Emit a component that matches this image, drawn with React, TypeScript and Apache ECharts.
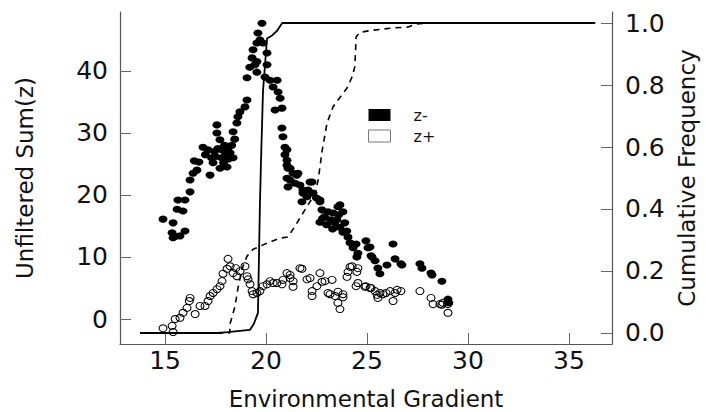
import React, { useEffect, useRef } from 'react';
import * as echarts from 'echarts';

const FONT = 'DejaVu Sans';

const xTicks = [15, 20, 25, 30, 35];
const leftTicks = [0, 10, 20, 30, 40];
const rightTicks = [0, 0.2, 0.4, 0.6, 0.8, 1.0];

const zMinus: number[][] = [
  [14.9, 16.1], [15.35, 13.9], [15.4, 13.1], [15.4, 15.5], [15.5, 13.3], [15.6, 17.7], [15.64, 19.2],
  [15.74, 13.4], [15.89, 17.4], [15.99, 14.2], [15.99, 19.2], [16.24, 20.5], [16.24, 22.4], [16.39, 23.5],
  [16.45, 25.5], [16.58, 24.0], [16.68, 25.3], [16.88, 27.7], [17.0, 26.5], [17.13, 27.3], [17.23, 23.2],
  [17.3, 26.0], [17.38, 25.2], [17.45, 27.0], [17.5, 26.2], [17.57, 31.3], [17.57, 30.0], [17.62, 27.5],
  [17.72, 28.9], [17.72, 24.3], [17.8, 26.0], [17.85, 27.2], [17.9, 25.2], [17.95, 28.0], [18.0, 26.5],
  [18.07, 24.5], [18.1, 27.5], [18.15, 25.8], [18.22, 26.8], [18.3, 28.0], [18.37, 26.0], [18.37, 30.2],
  [18.45, 29.0], [18.56, 31.6], [18.61, 32.6], [18.71, 33.4], [18.96, 34.2], [19.06, 35.3], [19.06, 38.9],
  [19.2, 40.6], [19.31, 42.1], [19.36, 43.4], [19.45, 41.0], [19.55, 44.5], [19.55, 41.5], [19.55, 39.8],
  [19.6, 46.1], [19.7, 45.0], [19.8, 47.7], [19.85, 44.5], [19.95, 39.0], [20.05, 42.9], [20.05, 41.0],
  [20.2, 38.5], [20.35, 37.4], [20.45, 33.7], [20.55, 38.5], [20.6, 36.6], [20.7, 35.6], [20.79, 34.0],
  [20.79, 30.8], [20.84, 29.4], [20.94, 27.7], [20.94, 26.5], [21.04, 27.3], [21.04, 25.6], [21.04, 24.8],
  [21.04, 22.7], [21.09, 24.3], [21.09, 21.3], [21.19, 24.3], [21.19, 22.4], [21.34, 23.5], [21.44, 21.9],
  [21.53, 23.2], [21.58, 23.5], [21.68, 21.6], [21.78, 18.9], [21.83, 20.8], [21.83, 20.3], [22.03, 19.7],
  [22.08, 20.8], [22.18, 22.1], [22.28, 22.1], [22.33, 20.3], [22.5, 19.5], [22.67, 19.2], [22.67, 18.9],
  [22.67, 15.6], [22.77, 17.6], [22.8, 16.2], [22.9, 16.5], [23.0, 15.2], [23.07, 17.3], [23.2, 16.0],
  [23.3, 14.5], [23.32, 17.1], [23.4, 15.5], [23.51, 16.0], [23.56, 18.1], [23.6, 16.8], [23.66, 18.4],
  [23.66, 14.8], [23.81, 17.3], [23.81, 14.0], [23.9, 15.5], [24.0, 14.2], [24.06, 13.2], [24.16, 12.3],
  [24.31, 11.5], [24.46, 12.1], [24.5, 10.0], [24.55, 10.6], [24.95, 12.6], [25.05, 11.5], [25.15, 11.6],
  [25.2, 10.2], [25.25, 10.0], [25.4, 9.4], [25.54, 8.2], [25.64, 7.3], [25.99, 8.7], [26.29, 12.1],
  [26.39, 9.7], [26.68, 8.9], [26.73, 8.7], [27.62, 8.9], [27.72, 8.2], [28.17, 7.4], [28.22, 7.1],
  [28.71, 6.1], [29.01, 3.2], [29.05, 2.6]
];

const zPlus: number[][] = [
  [14.9, -1.5], [15.35, -1.1], [15.4, -2.1], [15.5, 0], [15.74, 0.2], [15.89, 1.0], [16.09, 1.8],
  [16.2, 2.9], [16.24, 3.4], [16.49, 0.8], [16.73, 2.1], [16.98, 2.1], [17.13, 2.9], [17.23, 3.7],
  [17.38, 4.2], [17.57, 4.8], [17.72, 5.3], [17.82, 6.1], [17.87, 7.3], [18.07, 8.1], [18.12, 9.7],
  [18.22, 8.5], [18.37, 7.4], [18.5, 8.2], [18.56, 6.9], [18.71, 7.7], [18.96, 8.5], [19.06, 6.9],
  [19.11, 6.4], [19.21, 5.6], [19.31, 4.5], [19.36, 4.0], [19.55, 4.2], [19.7, 4.5], [19.85, 5.3],
  [20.05, 5.6], [20.2, 6.1], [20.35, 5.8], [20.54, 5.8], [20.79, 5.6], [20.84, 6.3], [21.04, 7.4],
  [21.19, 6.6], [21.19, 7.1], [21.34, 6.1], [21.34, 5.2], [21.68, 8.2], [21.78, 8.1], [22.03, 6.4],
  [22.18, 6.6], [22.28, 4.5], [22.28, 3.7], [22.52, 5.3], [22.67, 7.4], [22.77, 6.0], [22.92, 6.1],
  [23.07, 4.2], [23.17, 4.0], [23.27, 6.3], [23.42, 3.7], [23.56, 2.6], [23.56, 4.4], [23.66, 1.6],
  [23.81, 3.5], [23.81, 4.0], [24.01, 6.8], [24.06, 7.6], [24.16, 8.4], [24.26, 8.5], [24.46, 5.3],
  [24.5, 7.6], [24.55, 8.2], [24.55, 5.8], [24.9, 5.2], [24.95, 5.3], [25.15, 5.0], [25.2, 5.0],
  [25.4, 4.5], [25.5, 3.9], [25.54, 3.4], [25.64, 4.2], [25.79, 4.0], [25.94, 4.2], [26.14, 4.5],
  [26.29, 2.9], [26.39, 4.2], [26.49, 4.7], [26.68, 4.5], [27.62, 4.5], [28.17, 3.4], [28.27, 2.4],
  [28.61, 2.4], [28.71, 2.3], [28.76, 2.6], [29.01, 2.4], [29.01, 1.0]
];

const cumMinus: number[][] = [
  [13.76, 0], [17.6, 0], [18.1, 0.003], [19.2, 0.01], [19.4, 0.03], [19.6, 0.065], [19.7, 0.42],
  [19.75, 0.55], [19.85, 0.78], [20.05, 0.95], [20.3, 0.96], [20.55, 0.975], [20.8, 1.0], [36.3, 1.0]
];

const cumPlus: number[][] = [
  [13.76, 0], [18.2, 0], [18.22, 0.03], [18.47, 0.087], [18.61, 0.145], [18.81, 0.206], [19.06, 0.248],
  [19.36, 0.27], [20.05, 0.29], [20.69, 0.306], [21.09, 0.31], [21.34, 0.335], [21.58, 0.36],
  [21.83, 0.387], [22.43, 0.45], [22.57, 0.49], [22.67, 0.535], [22.77, 0.585], [23.02, 0.677],
  [23.32, 0.73], [23.66, 0.76], [24.01, 0.79], [24.26, 0.826], [24.4, 0.86], [24.46, 0.955],
  [24.65, 0.97], [25.3, 0.977], [26.29, 0.984], [27.03, 0.987], [27.43, 0.997], [28.27, 1.0], [36.29, 1.0]
];

const axisColor = '#555';
const textColor = '#111';

export default function App() {
  const ref = useRef<HTMLDivElement>(null);
  useEffect(() => {
    document.body.style.margin = '0';
    const chart = echarts.init(ref.current!, null, { renderer: 'svg' });
    chart.setOption({
      animation: false,
      backgroundColor: '#fff',
      grid: { left: 120, right: 94, top: 12, bottom: 68, containLabel: false, outerBoundsMode: 'none' },
      legend: {
        left: 363,
        top: 102,
        orient: 'vertical',
        itemWidth: 22,
        itemHeight: 12,
        itemGap: 5,
        data: [
          { name: 'z-', icon: 'rect', itemStyle: { color: '#000', borderWidth: 0, opacity: 1 } },
          { name: 'z+', icon: 'rect', itemStyle: { color: '#fff', borderColor: '#777', borderWidth: 1, opacity: 1 } }
        ],
        textStyle: { fontSize: 16, color: textColor, fontFamily: FONT, padding: [0, 0, 0, 18] }
      },
      xAxis: {
        type: 'value',
        min: 12.77,
        max: 37.13,
        position: 'bottom',
        axisLine: { show: true, onZero: false, lineStyle: { color: axisColor, width: 1.2 } },
        axisTick: { show: true, inside: true, length: 11, customValues: xTicks, lineStyle: { color: '#666' } },
        axisLabel: { customValues: xTicks, fontSize: 25, color: textColor, margin: 4, fontFamily: FONT },
        splitLine: { show: false },
        name: 'Environmental Gradient',
        nameLocation: 'middle',
        nameGap: 43,
        nameTextStyle: { fontSize: 23, color: textColor, fontFamily: FONT }
      },
      yAxis: [
        {
          type: 'value',
          min: -4.03,
          max: 49.5,
          position: 'left',
          axisLine: { show: true, onZero: false, lineStyle: { color: axisColor, width: 1.2 } },
          axisTick: { show: true, inside: true, length: 11, customValues: leftTicks, lineStyle: { color: '#666' } },
          axisLabel: { customValues: leftTicks, fontSize: 25, color: textColor, margin: 12, fontFamily: FONT },
          splitLine: { show: false },
          name: 'Unfiltered Sum(z)',
          nameLocation: 'middle',
          nameGap: 84,
          nameTextStyle: { fontSize: 23, color: textColor, fontFamily: FONT }
        },
        {
          type: 'value',
          min: -0.0355,
          max: 1.0355,
          position: 'right',
          axisLine: { show: true, onZero: false, lineStyle: { color: axisColor, width: 1.2 } },
          axisTick: { show: true, inside: true, length: 11, customValues: rightTicks, lineStyle: { color: '#666' } },
          axisLabel: {
            customValues: rightTicks,
            fontSize: 25,
            color: textColor,
            margin: 13,
            fontFamily: FONT,
            formatter: (v: number) => v.toFixed(1)
          },
          splitLine: { show: false },
          name: 'Cumulative Frequency',
          nameLocation: 'middle',
          nameGap: 62,
          nameTextStyle: { fontSize: 23, color: textColor, fontFamily: FONT }
        }
      ],
      series: [
        {
          name: 'cumMinus',
          type: 'line',
          yAxisIndex: 1,
          data: cumMinus,
          symbol: 'none',
          lineStyle: { color: '#000', width: 1.8 },
          z: 1
        },
        {
          name: 'cumPlus',
          type: 'line',
          yAxisIndex: 1,
          data: cumPlus,
          symbol: 'none',
          lineStyle: { color: '#000', width: 1.6, type: [6, 5] },
          z: 1
        },
        {
          name: 'z-',
          type: 'scatter',
          yAxisIndex: 0,
          data: zMinus,
          symbol: 'circle',
          symbolSize: [9, 7],
          itemStyle: { color: '#000', opacity: 1 },
          z: 3
        },
        {
          name: 'z+',
          type: 'scatter',
          yAxisIndex: 0,
          data: zPlus,
          symbol: 'circle',
          symbolSize: [8, 7],
          itemStyle: { color: 'rgba(0,0,0,0)', borderColor: '#000', borderWidth: 1, opacity: 1 },
          z: 2
        }
      ]
    });
    return () => chart.dispose();
  }, []);
  return <div ref={ref} style={{ position: 'absolute', left: 0, top: 0, width: 706, height: 412 }} />;
}
